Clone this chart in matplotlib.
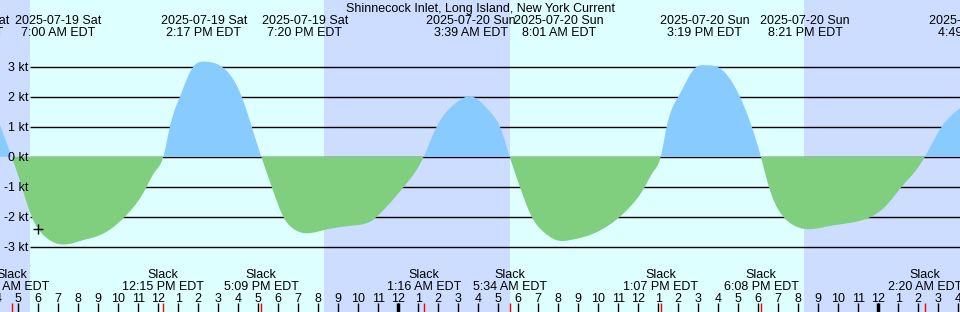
import numpy as np
import matplotlib
matplotlib.use("Agg")
import matplotlib.pyplot as plt
from matplotlib.transforms import blended_transform_factory

plt.rcParams['font.family'] = ['Liberation Sans', 'DejaVu Sans']

# ---------------- data ----------------
title = "Shinnecock Inlet, Long Island, New York Current"

# curve samples (hours since 2025-07-19 00:00, knots)
curve_hours = [4.085, 4.67, 5.17, 5.67, 6.0, 6.5, 7.0, 8.25, 9.1, 10.33, 11.42, 11.83,
               12.25, 12.58, 13.08, 13.75, 14.28, 15.17, 16.17, 16.67, 17.15,
               17.67, 18.25, 18.75, 19.33, 20.25, 21.92, 22.75, 23.08, 23.58, 24.28,
               25.27, 25.92, 26.42, 27.08, 27.65, 28.58, 29.08, 29.57, 30.08, 30.67,
               31.25, 32.02, 32.59, 33.58, 34.25, 35.08, 35.75, 36.33, 36.75, 37.12,
               37.42, 38.0, 38.92, 39.32, 39.92, 41.08, 41.67, 42.13, 42.53, 43.25,
               43.75, 44.35, 45.42, 46.25, 47.58, 48.42, 49.17, 49.83, 50.33, 51.17,
               52.085]
curve_knots = [1.05, 0.0, -1.0, -2.0, -2.41, -2.75, -2.91, -2.78, -2.61, -2.0, -1.0, -0.5,
               0.0, 1.0, 2.0, 3.0, 3.17, 3.0, 2.0, 1.0, 0.0,
               -1.0, -2.0, -2.4, -2.55, -2.45, -2.28, -2.1, -1.9, -1.55, -1.0,
               0.0, 1.0, 1.5, 1.89, 2.01, 1.5, 1.0, 0.0, -1.0, -2.0,
               -2.5, -2.8, -2.78, -2.61, -2.4, -2.0, -1.55, -1.0, -0.5, 0.0,
               1.0, 2.0, 3.0, 3.05, 3.0, 2.0, 1.0, 0.0, -1.0, -2.0,
               -2.28, -2.41, -2.33, -2.24, -2.02, -1.61, -1.0, -0.5, 0.0, 1.0,
               1.61]

# max flood / max ebb events (top labels)
peak_hours = [2.37, 7.0, 14.283, 19.333, 27.65, 32.017, 39.317, 44.35, 52.817]
peak_dates = ["2025-07-19 Sat", "2025-07-19 Sat", "2025-07-19 Sat", "2025-07-19 Sat",
              "2025-07-20 Sun", "2025-07-20 Sun", "2025-07-20 Sun", "2025-07-20 Sun",
              "2025-07-21 Mon"]
peak_times = ["2:22 AM EDT", "7:00 AM EDT", "2:17 PM EDT", "7:20 PM EDT", "3:39 AM EDT",
              "8:01 AM EDT", "3:19 PM EDT", "8:21 PM EDT", "4:49 AM EDT"]

# slack events (bottom labels)
slack_hours = [4.67, 12.25, 17.15, 25.267, 29.567, 37.117, 42.133, 50.333]
slack_times = ["4:40 AM EDT", "12:15 PM EDT", "5:09 PM EDT", "1:16 AM EDT",
               "5:34 AM EDT", "1:07 PM EDT", "6:08 PM EDT", "2:20 AM EDT"]

# sunrise / sunset
sunrise_hours = [5.585, 29.585]
sunset_hours = [20.285, 44.285]

# current-time marker
now_hour = 6.0
now_knots = -2.41

# y axis
knot_levels = [3, 2, 1, 0, -1, -2, -3]
knot_labels = ["3 kt", "2 kt", "1 kt", "0 kt", "-1 kt", "-2 kt", "-3 kt"]

# hour ticks
hour_ticks = list(range(4, 53))
hour_labels = ["4", "5", "6", "7", "8", "9", "10", "11", "12", "1", "2", "3", "4", "5",
               "6", "7", "8", "9", "10", "11", "12", "1", "2", "3", "4", "5", "6", "7",
               "8", "9", "10", "11", "12", "1", "2", "3", "4", "5", "6", "7", "8", "9",
               "10", "11", "12", "1", "2", "3", "4"]
midnight_hours = [24, 48]

# ---------------- style ----------------
W, H = 960, 312
C_DAY = "#DDFFFF"
C_NIGHT = "#CCDDFF"
C_FLOOD = "#88CCFF"
C_EBB = "#7FCF7F"
FS = 9


def px_x(x):   # pixel column -> hours
    return 5 + (x - 18.3) / 20.0


def px_y(y):   # pixel row -> knots
    return (156.7 - y) / 30.0


def spline(x, y, xn):
    """Natural cubic spline through the samples (rendering only)."""
    x = np.asarray(x, float)
    y = np.asarray(y, float)
    n = len(x)
    h = np.diff(x)
    A = np.zeros((n, n))
    b = np.zeros(n)
    A[0, 0] = A[-1, -1] = 1.0
    for i in range(1, n - 1):
        A[i, i - 1] = h[i - 1]
        A[i, i] = 2 * (h[i - 1] + h[i])
        A[i, i + 1] = h[i]
        b[i] = 6 * ((y[i + 1] - y[i]) / h[i] - (y[i] - y[i - 1]) / h[i - 1])
    M = np.linalg.solve(A, b)
    idx = np.clip(np.searchsorted(x, xn) - 1, 0, n - 2)
    hi = h[idx]
    a = x[idx + 1] - xn
    c = xn - x[idx]
    return (M[idx] * a**3 / (6 * hi) + M[idx + 1] * c**3 / (6 * hi)
            + (y[idx] / hi - M[idx] * hi / 6) * a
            + (y[idx + 1] / hi - M[idx + 1] * hi / 6) * c)


fig = plt.figure(figsize=(W / 100, H / 100), dpi=100)
ax = fig.add_axes([0, 0, 1, 1])
x0, x1 = px_x(0), px_x(W)
y0, y1 = px_y(H), px_y(0)
ax.set_xlim(x0, x1)
ax.set_ylim(y0, y1)
ax.axis("off")

# background day/night
ax.axvspan(x0, x1, color=C_DAY, lw=0, zorder=0)
ax.axvspan(x0, sunrise_hours[0], color=C_NIGHT, lw=0, zorder=0)
ax.axvspan(sunset_hours[0], sunrise_hours[1], color=C_NIGHT, lw=0, zorder=0)
ax.axvspan(sunset_hours[1], x1, color=C_NIGHT, lw=0, zorder=0)

# grid lines
ax.hlines(knot_levels, px_x(30), x1, colors="black", lw=1.0, zorder=1)

# curve
tt = np.linspace(curve_hours[0], curve_hours[-1], 4000)
vv = spline(curve_hours, curve_knots, tt)
ax.fill_between(tt, vv, 0, where=vv >= 0, interpolate=True, color=C_FLOOD, lw=0, zorder=2)
ax.fill_between(tt, vv, 0, where=vv <= 0, interpolate=True, color=C_EBB, lw=0, zorder=2)

# now marker
ax.plot([now_hour], [now_knots], marker="+", ms=6.5, mew=1.0, color="black", zorder=4)

# y labels
tr = blended_transform_factory(ax.transAxes, ax.transData)
for lv, lb in zip(knot_levels, knot_labels):
    ax.text(28.5 / W, lv - 4.5 / 30.0, lb, transform=tr, ha="right", va="baseline",
            fontsize=FS, color="black", zorder=5)

# title
ax.text(0.5, px_y(11.7), title, transform=tr, ha="center", va="baseline", fontsize=FS, zorder=5)

# top labels
for t, dte, tm in zip(peak_hours, peak_dates, peak_times):
    ax.text(t, px_y(24.0), dte, ha="center", va="baseline", fontsize=FS, zorder=5, clip_on=False)
    ax.text(t, px_y(36.0), tm, ha="center", va="baseline", fontsize=FS, zorder=5, clip_on=False)

# slack labels
for t, tm in zip(slack_hours, slack_times):
    ax.text(t, px_y(278.3), "Slack", ha="center", va="baseline", fontsize=FS, zorder=5)
    ax.text(t, px_y(289.5), tm, ha="center", va="baseline", fontsize=FS, zorder=5)

# hour ticks and labels
for h, lb in zip(hour_ticks, hour_labels):
    ax.text(h, px_y(301.7), lb, ha="center", va="baseline", fontsize=FS, zorder=5)
ax.vlines(hour_ticks, y0, px_y(303), colors="black", lw=1.0, zorder=3)
ax.vlines(midnight_hours, y0, px_y(303), colors="black", lw=2.5, zorder=3)
ax.vlines(slack_hours, y0, px_y(303), colors="red", lw=1.0, zorder=3)

fig.savefig("out.png", dpi=100)
